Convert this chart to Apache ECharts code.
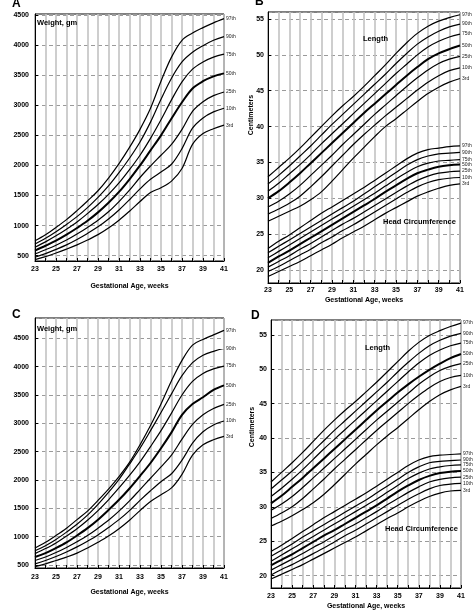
<!DOCTYPE html>
<html><head><meta charset="utf-8">
<script src="https://cdn.jsdelivr.net/npm/echarts@6/dist/echarts.min.js"></script>
<style>html,body{margin:0;padding:0;background:#fff}#c{width:474px;height:615px}</style>
</head><body><div id="c"></div>
<script>
const weeks = [23,24,25,26,27,28,29,30,31,32,33,34,35,36,37,38,39,40,41];
const pctNames = ['97th','90th','75th','50th','25th','10th','3rd'];

// Panel A: weight (gm)
const A97 = [750,850,970,1100,1250,1410,1580,1790,2030,2300,2600,2950,3400,3800,4080,4200,4290,4370,4440];
const A90 = [695,790,900,1020,1150,1300,1470,1660,1880,2120,2390,2720,3100,3450,3720,3880,3990,4080,4140];
const A75 = [640,730,830,940,1060,1200,1350,1520,1710,1930,2170,2450,2760,3090,3390,3600,3720,3800,3850];
const A50 = [585,665,750,850,960,1080,1220,1380,1560,1770,2000,2250,2500,2780,3050,3280,3400,3480,3530];
const A25 = [530,600,675,760,860,970,1090,1230,1400,1590,1800,1990,2170,2350,2600,2900,3060,3160,3220];
const A10 = [475,535,605,680,770,870,980,1110,1260,1430,1610,1770,1890,2020,2280,2620,2790,2890,2950];
const A3  = [435,485,545,610,680,760,850,960,1090,1240,1400,1550,1630,1740,1950,2350,2530,2610,2670];

// Panel B: length (cm)
const BL97 = [33.0,34.3,35.6,37.0,38.5,40.0,41.5,42.9,44.2,45.6,47.1,48.6,50.2,51.7,53.0,54.0,54.7,55.2,55.6];
const BL90 = [32.0,33.2,34.5,35.9,37.3,38.8,40.3,41.7,43.1,44.5,45.9,47.3,48.8,50.2,51.5,52.5,53.3,53.9,54.3];
const BL75 = [31.0,32.1,33.4,34.7,36.1,37.6,39.0,40.4,41.8,43.2,44.6,46.0,47.4,48.7,50.0,51.1,51.9,52.5,52.9];
const BL50 = [30.0,31.0,32.2,33.5,34.9,36.3,37.7,39.1,40.5,41.9,43.2,44.5,45.8,47.1,48.3,49.4,50.2,50.8,51.3];
const BL25 = [28.8,29.6,30.6,31.8,33.2,34.6,36.0,37.5,38.9,40.3,41.7,43.0,44.3,45.6,46.8,47.9,48.8,49.4,49.8];
const BL10 = [27.8,28.5,29.3,30.3,31.6,33.0,34.5,36.0,37.5,38.9,40.2,41.5,42.7,43.9,45.1,46.2,47.1,47.8,48.2];
const BL3  = [26.8,27.5,28.2,28.9,29.8,30.9,32.4,34.0,35.6,37.1,38.6,40.0,41.1,42.3,43.5,44.6,45.5,46.2,46.7];

// Panel B: head circumference (cm)
const BH97 = [23.0,24.0,24.9,25.9,26.9,27.9,28.8,29.7,30.6,31.5,32.5,33.5,34.5,35.5,36.3,36.8,37.0,37.2,37.3];
const BH90 = [22.4,23.3,24.2,25.1,26.0,26.9,27.8,28.7,29.6,30.6,31.6,32.6,33.6,34.6,35.4,35.9,36.2,36.3,36.4];
const BH75 = [21.7,22.6,23.5,24.4,25.3,26.2,27.1,28.0,28.9,29.8,30.7,31.7,32.7,33.6,34.4,34.9,35.2,35.3,35.4];
const BH50 = [21.0,21.9,22.7,23.6,24.5,25.4,26.3,27.2,28.1,29.0,29.9,30.9,31.8,32.7,33.5,34.0,34.4,34.6,34.7];
const BH25 = [20.4,21.2,22.0,22.9,23.7,24.6,25.5,26.4,27.2,28.1,29.0,29.9,30.8,31.7,32.5,33.1,33.5,33.7,33.8];
const BH10 = [19.8,20.5,21.3,22.1,22.9,23.8,24.6,25.5,26.3,27.2,28.1,29.0,29.9,30.8,31.6,32.2,32.6,32.8,32.9];
const BH3  = [19.1,19.8,20.5,21.2,22.0,22.8,23.6,24.5,25.3,26.1,27.0,27.9,28.7,29.5,30.3,30.9,31.4,31.8,32.0];

// Panel C: weight (gm)
const C97 = [800,900,1020,1150,1300,1450,1640,1840,2060,2310,2620,2960,3340,3750,4110,4380,4480,4560,4640];
const C90 = [750,840,950,1080,1220,1380,1570,1780,2010,2280,2560,2870,3190,3520,3840,4070,4200,4270,4320];
const C75 = [700,790,890,1010,1140,1290,1460,1650,1860,2080,2320,2590,2870,3180,3500,3740,3880,3960,4010];
const C50 = [640,710,800,900,1020,1150,1300,1470,1650,1850,2070,2300,2560,2840,3150,3340,3460,3590,3670];
const C25 = [580,640,720,810,910,1020,1150,1290,1450,1630,1830,2030,2230,2440,2720,2980,3150,3260,3335];
const C10 = [520,580,650,730,820,920,1030,1160,1300,1460,1640,1810,1970,2110,2350,2650,2850,2970,3040];
const C3  = [470,520,580,640,710,800,900,1010,1140,1290,1460,1620,1740,1860,2100,2440,2620,2710,2770];

// Panel D: length (cm)
const DL97 = [33.6,35.0,36.4,37.9,39.5,41.1,42.6,44.0,45.3,46.7,48.1,49.6,51.1,52.6,53.9,54.9,55.6,56.2,56.7];
const DL90 = [32.6,33.9,35.2,36.6,38.1,39.6,41.1,42.5,43.9,45.3,46.7,48.1,49.6,51.0,52.3,53.4,54.2,54.8,55.2];
const DL75 = [31.5,32.7,34.0,35.4,36.9,38.4,39.8,41.2,42.6,44.0,45.4,46.8,48.2,49.6,50.9,52.0,52.8,53.4,53.8];
const DL50 = [30.5,31.6,32.9,34.2,35.6,37.0,38.4,39.8,41.2,42.6,44.0,45.3,46.6,47.8,48.9,49.9,50.8,51.6,52.2];
const DL25 = [29.5,30.4,31.5,32.8,34.2,35.6,37.0,38.4,39.8,41.2,42.6,43.9,45.2,46.5,47.8,48.9,49.8,50.4,50.8];
const DL10 = [28.3,29.1,30.0,31.2,32.6,34.0,35.5,36.9,38.3,39.7,41.1,42.4,43.7,45.0,46.2,47.3,48.2,48.8,49.1];
const DL3  = [27.2,27.9,28.7,29.6,30.6,31.8,33.2,34.7,36.2,37.6,39.0,40.3,41.5,42.8,44.1,45.3,46.3,47.0,47.5];

// Panel D: head circumference (cm)
const DH97 = [23.5,24.4,25.4,26.4,27.4,28.4,29.3,30.2,31.1,32.0,33.0,34.0,35.0,36.0,36.8,37.3,37.5,37.6,37.7];
const DH90 = [22.8,23.7,24.6,25.6,26.5,27.4,28.3,29.2,30.1,31.0,32.0,33.0,34.0,35.0,35.8,36.4,36.6,36.7,36.8];
const DH75 = [22.1,23.0,23.9,24.8,25.7,26.6,27.5,28.4,29.3,30.2,31.1,32.1,33.1,34.1,34.9,35.5,35.8,36.0,36.1];
const DH50 = [21.5,22.3,23.1,24.0,24.9,25.8,26.6,27.5,28.4,29.3,30.2,31.2,32.2,33.1,33.9,34.5,34.9,35.1,35.2];
const DH25 = [20.8,21.6,22.4,23.2,24.1,24.9,25.8,26.7,27.5,28.4,29.3,30.3,31.2,32.1,32.9,33.6,34.0,34.2,34.3];
const DH10 = [20.1,20.9,21.6,22.4,23.2,24.0,24.9,25.8,26.6,27.5,28.4,29.3,30.2,31.1,31.9,32.6,33.1,33.3,33.4];
const DH3  = [19.5,20.2,20.9,21.6,22.4,23.2,24.0,24.8,25.6,26.5,27.4,28.3,29.1,30.0,30.8,31.5,32.0,32.3,32.4];

const xTicksLabeled = [23,25,27,29,31,33,35,37,39,41];

const FONT = 'Liberation Sans, Arial, sans-serif';
const grids = [
  {left:35, top:14, width:189, height:247},
  {left:268, top:12, width:192, height:271},
  {left:35, top:318, width:189, height:250},
  {left:271, top:320, width:190, height:268}
];
const yRanges = [[412,4517],[18.19,55.98],[447,4858],[18.2,57.15]];
const nameGaps = [22,14,21,15];
const labelMargins = [5,4,6,5];

const xAxes = grids.map((g,i)=>({
  type:'value', gridIndex:i, min:23, max:41, interval:1,
  axisLine:{show:true, lineStyle:{color:'#000', width:1}},
  axisTick:{show:true, inside:true, length:3, lineStyle:{color:'#000'}},
  axisLabel:{fontSize:7, fontWeight:'bold', color:'#000', fontFamily:FONT, margin:labelMargins[i],
    showMinLabel:true, showMaxLabel:true,
    formatter:v=> xTicksLabeled.includes(v) ? String(v) : ''},
  splitLine:{show:true, lineStyle:{color:'#c2c2c2', width:1.6}},
  name:'Gestational Age, weeks', nameLocation:'middle', nameGap:nameGaps[i],
  nameTextStyle:{fontSize:7, fontWeight:'bold', color:'#000', fontFamily:FONT}
}));
const yAxes = grids.map((g,i)=>({
  type:'value', gridIndex:i, min:yRanges[i][0], max:yRanges[i][1], splitNumber:8,
  axisLine:{show:true, lineStyle:{color:'#000', width:1}},
  axisTick:{show:true, inside:true, length:3, lineStyle:{color:'#000'}},
  axisLabel:{fontSize:7, fontWeight:'bold', color:'#000', fontFamily:FONT, margin:i%2===0?6:4,
    showMinLabel:false, showMaxLabel:false, formatter:v=>String(v)},
  splitLine:{show:true, lineStyle:{color:'#9a9a9a', width:1, type:[4,3]}}
}));

function mk(arrs, idx){
  return arrs.map((arr,k)=>({
    type:'line', xAxisIndex:idx, yAxisIndex:idx, smooth:0.35, symbol:'none', silent:true,
    data: weeks.map((w,j)=>[w, arr[j]]),
    lineStyle:{color:'#000', width: k===3 ? 2 : 1.2},
    endLabel:{show:true, formatter:pctNames[k], fontSize:5, color:'#222', fontFamily:FONT, distance:2}
  }));
}
const series = [].concat(
  mk([A97,A90,A75,A50,A25,A10,A3],0),
  mk([BL97,BL90,BL75,BL50,BL25,BL10,BL3],1),
  mk([BH97,BH90,BH75,BH50,BH25,BH10,BH3],1),
  mk([C97,C90,C75,C50,C25,C10,C3],2),
  mk([DL97,DL90,DL75,DL50,DL25,DL10,DL3],3),
  mk([DH97,DH90,DH75,DH50,DH25,DH10,DH3],3)
);

function txt(x,y,t,size,extra){
  return Object.assign({type:'text', x:x, y:y, z:100,
    style:{text:t, fontSize:size, fontWeight:'bold', fill:'#000', fontFamily:FONT, textVerticalAlign:'middle'}}, extra||{});
}
const graphic = [
  txt(12,4,'A',12),
  txt(255,2,'B',12),
  txt(12,315,'C',12),
  txt(251,316,'D',12),
  txt(37,23,'Weight, gm',7.5),
  txt(37,329,'Weight, gm',7.5),
  txt(363,39,'Length',7.5),
  txt(383,222,'Head Circumference',7.5),
  txt(365,348,'Length',7.5),
  txt(385,529,'Head Circumference',7.5),
  {type:'text', x:251, y:115, rotation:Math.PI/2, z:100,
    style:{text:'Centimeters', fontSize:7, fontWeight:'bold', fill:'#000', fontFamily:FONT, textAlign:'center', textVerticalAlign:'middle'}},
  {type:'text', x:252, y:427, rotation:Math.PI/2, z:100,
    style:{text:'Centimeters', fontSize:7, fontWeight:'bold', fill:'#000', fontFamily:FONT, textAlign:'center', textVerticalAlign:'middle'}}
];

const chart = echarts.init(document.getElementById('c'), null, {renderer:'canvas'});
chart.setOption({
  animation:false,
  backgroundColor:'#fff',
  grid: grids.map(g=>Object.assign({show:true, borderColor:'#000', borderWidth:1, backgroundColor:'transparent'}, g)),
  xAxis: xAxes, yAxis: yAxes, series: series, graphic: graphic
});
</script></body></html>
